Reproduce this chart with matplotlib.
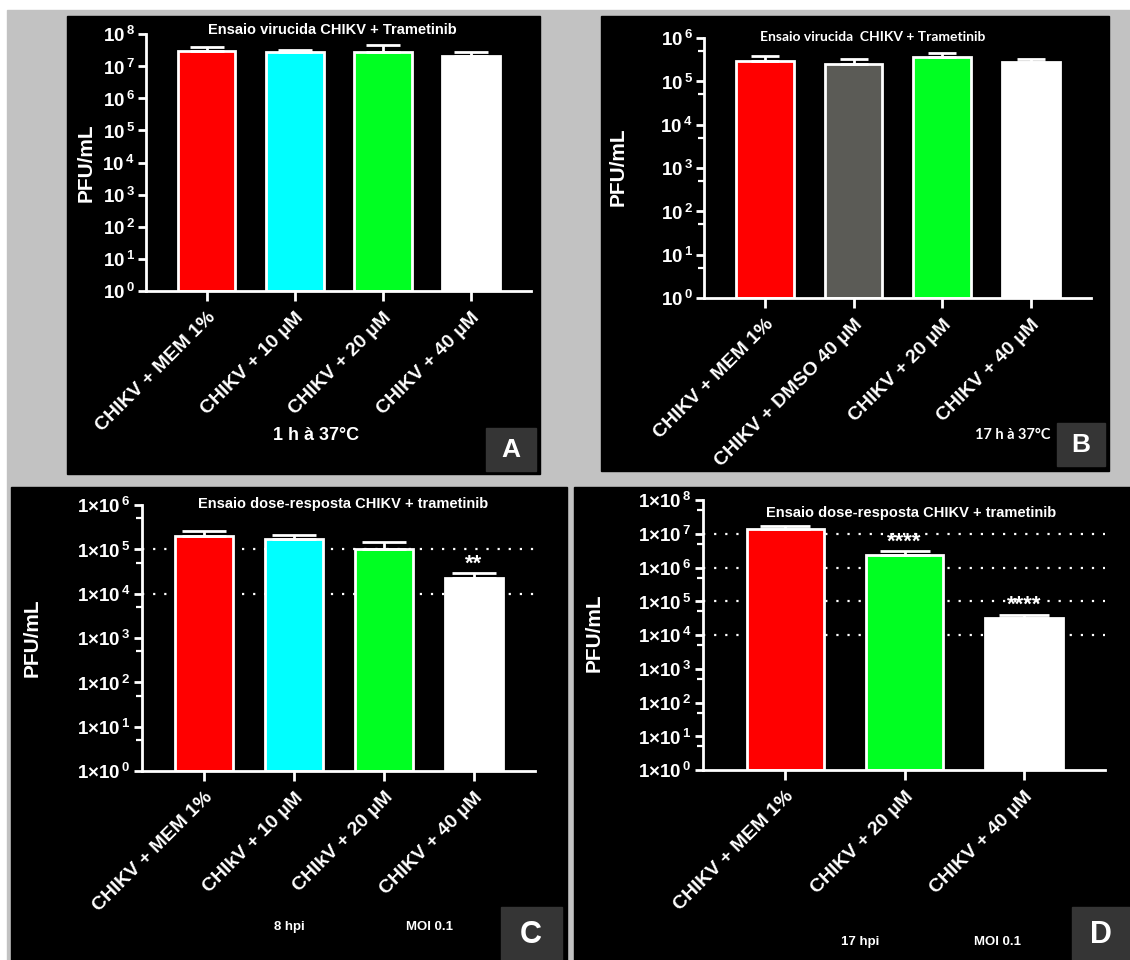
import matplotlib.pyplot as plt
import numpy as np
from matplotlib.patches import Rectangle
from matplotlib.ticker import FixedLocator, NullLocator

plt.rcParams['font.family'] = ['Liberation Sans', 'DejaVu Sans']
plt.rcParams['font.weight'] = 'bold'
plt.rcParams['mathtext.fontset'] = 'custom'
plt.rcParams['mathtext.rm'] = 'Liberation Sans:bold'
plt.rcParams['mathtext.bf'] = 'Liberation Sans:bold'

# data
a_labels = ['CHIKV + MEM 1%', 'CHIKV + 10 µM', 'CHIKV + 20 µM', 'CHIKV + 40 µM']
a_mean = [3.0e7, 2.8e7, 2.8e7, 2.1e7]
a_upper = [3.9e7, 3.2e7, 4.4e7, 2.7e7]

b_labels = ['CHIKV + MEM 1%', 'CHIKV + DMSO 40 µM', 'CHIKV + 20 µM', 'CHIKV + 40 µM']
b_mean = [2.9e5, 2.5e5, 3.6e5, 2.8e5]
b_upper = [3.8e5, 3.2e5, 4.5e5, 3.2e5]

c_labels = ['CHIKV + MEM 1%', 'CHIkV + 10 µM', 'CHIkV + 20 µM', 'CHIKV + 40 µM']
c_mean = [2.0e5, 1.7e5, 1.0e5, 2.3e4]
c_upper = [2.6e5, 2.1e5, 1.45e5, 2.9e4]
c_stars = ['', '', '', '**']

d_labels = ['CHIKV + MEM 1%', 'CHIKV + 20 µM', 'CHIKV + 40 µM']
d_mean = [1.35e7, 2.3e6, 3.1e4]
d_upper = [1.67e7, 3.0e6, 4.0e4]
d_stars = ['', '****', '****']

RED, CYAN, GREEN, WHITE, GREY = '#ff0000', '#00ffff', '#00ff22', '#ffffff', '#5b5b56'

W, H = 1130, 960
fig = plt.figure(figsize=(W / 100, H / 100), dpi=100)
fig.patch.set_facecolor('white')


def rect(x0, y0, x1, y1, color):
    fig.patches.append(Rectangle((x0 / W, 1 - y1 / H), (x1 - x0) / W, (y1 - y0) / H,
                                 transform=fig.transFigure, color=color, zorder=-1))


def ftext(x, y, s, **kw):
    fig.text(x / W, 1 - y / H, s, ha='center', va='center', color='white', **kw)


def panel(box, cats, mean, upper, colors, top, cap, sci, minor, grid=(), stars=None):
    x0, y0, x1, y1 = box
    ax = fig.add_axes([x0 / W, 1 - y1 / H, (x1 - x0) / W, (y1 - y0) / H])
    ax.set_facecolor('none')
    ax.set_zorder(1)
    x = np.arange(len(cats))
    mean = np.array(mean)
    upper = np.array(upper)
    ax.set_yscale('log')
    for g in grid:
        ax.axhline(g, color='white', lw=1.6, ls=(0, (1, 4)), zorder=0)
    ax.bar(x, mean - 1, bottom=1, width=0.65, color=colors, edgecolor='white',
           linewidth=2, zorder=2)
    ax.errorbar(x, mean, yerr=[np.zeros(len(x)), upper - mean], fmt='none',
                ecolor='white', elinewidth=2, capsize=cap, capthick=2, zorder=3)
    if stars:
        for xi, u, s in zip(x, upper, stars):
            if s:
                ax.text(xi, u * 0.93, s, ha='center', va='bottom', color='white',
                        fontsize=16)
    ax.set_ylim(1, 10 ** top)
    ax.set_xlim(-0.69, len(x) - 1 + 0.68)
    ticks = [10.0 ** k for k in range(top + 1)]
    ax.yaxis.set_major_locator(FixedLocator(ticks))
    if sci:
        labs = [r'$1{\times}10^{\,%d}$' % k for k in range(top + 1)]
    else:
        labs = [r'$10^{\,%d}$' % k for k in range(top + 1)]
    ax.set_yticklabels(labs)
    if minor:
        ax.yaxis.set_minor_locator(FixedLocator([5 * 10.0 ** k for k in range(top)]))
    else:
        ax.yaxis.set_minor_locator(NullLocator())
    ax.set_xticks(x)
    ax.set_xticklabels(cats, rotation=45, ha='right', rotation_mode='anchor',
                       fontsize=14)
    for s in ['top', 'right']:
        ax.spines[s].set_visible(False)
    for s in ['left', 'bottom']:
        ax.spines[s].set_color('white')
        ax.spines[s].set_linewidth(2)
    ax.tick_params(axis='y', which='major', colors='white', width=2, length=6,
                   labelsize=13.5, pad=2)
    ax.tick_params(axis='y', which='minor', colors='white', width=1.6, length=4)
    ax.tick_params(axis='x', colors='white', width=2, length=7, pad=6)
    return ax


# background and panels
rect(7, 10, 1130, 960, '#c2c2c2')
rect(67, 16, 540, 474, 'black')
rect(601, 16, 1109, 471, 'black')
rect(11, 487, 567, 960, 'black')
rect(574, 487, 1130, 960, 'black')

# panel A
panel((146, 34, 531, 291), a_labels, a_mean, a_upper, [RED, CYAN, GREEN, WHITE],
      8, 12, False, False)
ftext(86, 163, 'PFU/mL', fontsize=15, rotation=90)
ftext(332, 30, 'Ensaio virucida CHIKV + Trametinib', fontsize=10.5)
ftext(316, 435, '1 h à 37°C', fontsize=13)
rect(486, 428, 536, 471, '#353535')
ftext(511, 450, 'A', fontsize=19)

# panel B
panel((704, 38, 1091, 298), b_labels, b_mean, b_upper, [RED, GREY, GREEN, WHITE],
      6, 10, False, True)
ftext(618, 167, 'PFU/mL', fontsize=15, rotation=90)
ftext(873, 37, 'Ensaio virucida  CHIKV + Trametinib', fontsize=10,
      family=['Lato', 'DejaVu Sans'])
ftext(1013, 435, '17 h à 37°C', fontsize=10.5, family=['Lato', 'DejaVu Sans'])
rect(1057, 423, 1105, 466, '#353535')
ftext(1081, 445, 'B', fontsize=19)

# panel C
panel((142, 505, 535, 771), c_labels, c_mean, c_upper, [RED, CYAN, GREEN, WHITE],
      6, 16, True, True, grid=(1e5, 1e4), stars=c_stars)
ftext(32, 638, 'PFU/mL', fontsize=15, rotation=90)
ftext(343, 504, 'Ensaio dose-resposta CHIKV + trametinib', fontsize=10.5)
ftext(289, 927, '8 hpi', fontsize=9.5)
ftext(429, 927, 'MOI 0.1', fontsize=9.5)
rect(501, 907, 562, 960, '#353535')
ftext(531, 935, 'C', fontsize=22)

# panel D
panel((703, 500, 1105, 770), d_labels, d_mean, d_upper, [RED, GREEN, WHITE],
      8, 18, True, True, grid=(1e7, 1e6, 1e5, 1e4), stars=d_stars)
ftext(594, 633, 'PFU/mL', fontsize=15, rotation=90)
ftext(911, 513, 'Ensaio dose-resposta CHIKV + trametinib', fontsize=10.5)
ftext(860, 942, '17 hpi', fontsize=9.5)
ftext(998, 942, 'MOI 0.1', fontsize=9.5)
rect(1072, 907, 1130, 960, '#353535')
ftext(1101, 935, 'D', fontsize=22)

fig.savefig('out.png', dpi=100, facecolor=fig.get_facecolor())
